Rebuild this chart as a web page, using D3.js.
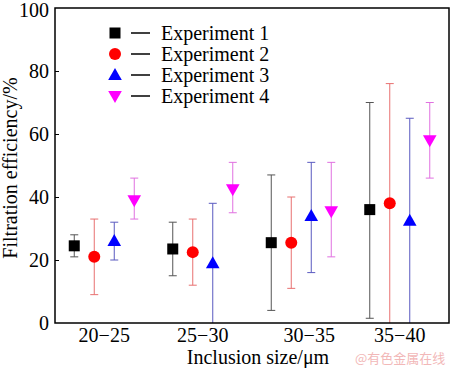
<!DOCTYPE html>
<html><head><meta charset="utf-8">
<script src="https://cdn.jsdelivr.net/npm/d3@7"></script>
<style>body{margin:0;background:#fff}svg{display:block}</style>
</head><body><svg id="c" width="450" height="368"></svg>
<script>
const categories = ["20\u221225","25\u221230","30\u221235","35\u221240"];
const seriesNames = ["Experiment 1","Experiment 2","Experiment 3","Experiment 4"];
const exp1 = [24.5, 23.5, 25.5, 36];
const exp1Lo = [21, 15, 4, 1.5];
const exp1Hi = [28, 32, 47, 70];
const exp2 = [21, 22.5, 25.5, 38];
const exp2Lo = [9, 12, 11, 0];
const exp2Hi = [33, 33, 40, 76];
const exp3 = [26, 19, 34, 32.5];
const exp3Lo = [20, 0, 16, 0];
const exp3Hi = [32, 38, 51, 65];
const exp4 = [39, 42.5, 35.5, 58];
const exp4Lo = [33, 35, 21, 46];
const exp4Hi = [46, 51, 51, 70];
const yTicks = [0, 20, 40, 60, 80, 100];

const series = [
  {name: seriesNames[0], v: exp1, lo: exp1Lo, hi: exp1Hi, color: "#000000", err: "#555555", sym: "square"},
  {name: seriesNames[1], v: exp2, lo: exp2Lo, hi: exp2Hi, color: "#ff0000", err: "#e87070", sym: "circle"},
  {name: seriesNames[2], v: exp3, lo: exp3Lo, hi: exp3Hi, color: "#0000ff", err: "#5a5ac0", sym: "up"},
  {name: seriesNames[3], v: exp4, lo: exp4Lo, hi: exp4Hi, color: "#ff00ff", err: "#e070e0", sym: "down"}
];

const SERIF = '"Liberation Serif"';
const svg = d3.select("#c");
const L = 55, R = 449, T = 8, B = 323;
const x = d3.scaleBand().domain(categories).range([L, R]).padding(0);
const off = d3.scalePoint().domain(seriesNames).range([-30, 30]);
const y = d3.scaleLinear().domain([0, 100]).range([B, T]);

function drawSym(g, sym, color) {
  if (sym === "square") g.append("rect").attr("x", -5.5).attr("y", -5.5).attr("width", 11).attr("height", 11).attr("fill", color);
  else if (sym === "circle") g.append("circle").attr("r", 6).attr("fill", color);
  else if (sym === "up") g.append("path").attr("d", "M0,-7L6.8,5L-6.8,5Z").attr("fill", color);
  else g.append("path").attr("d", "M0,7L6.8,-5L-6.8,-5Z").attr("fill", color);
}

svg.append("defs").append("clipPath").attr("id", "pc").append("rect")
  .attr("x", L).attr("y", T).attr("width", R - L).attr("height", B - T);

const plot = svg.append("g").attr("clip-path", "url(#pc)");
series.forEach(s => {
  const g = plot.append("g");
  categories.forEach((c, i) => {
    const cx = x(c) + x.bandwidth() / 2 + off(s.name);
    g.append("line").attr("x1", cx).attr("x2", cx).attr("y1", y(s.lo[i])).attr("y2", y(s.hi[i]))
      .attr("stroke", s.err).attr("stroke-width", 1);
    [s.lo[i], s.hi[i]].forEach(v => {
      if (v > 0) g.append("line").attr("x1", cx - 4).attr("x2", cx + 4).attr("y1", y(v)).attr("y2", y(v))
        .attr("stroke", s.err).attr("stroke-width", 1);
    });
    drawSym(g.append("g").attr("transform", `translate(${cx},${y(s.v[i])})`), s.sym, s.color);
  });
});

// Axes
const yAxis = svg.append("g").attr("transform", `translate(${L},0)`)
  .call(d3.axisLeft(y).tickValues(yTicks).tickSize(-4).tickPadding(6).tickFormat(d3.format("d")));
yAxis.attr("font-family", null);
yAxis.select(".domain").remove();
yAxis.selectAll(".tick line").attr("stroke", "#000");
yAxis.selectAll("text").attr("font-size", 20).attr("fill", "#000").style("font-family", SERIF);
yAxis.selectAll(".tick").filter(d => d === 0 || d === 100).select("line").remove();
yAxis.selectAll(".tick").filter(d => d === 100).select("text").attr("dy", "0.42em");

const xAxis = svg.append("g").attr("transform", `translate(0,${B})`)
  .call(d3.axisBottom(x).tickSize(0).tickPadding(5));
xAxis.attr("font-family", null);
xAxis.select(".domain").remove();
xAxis.selectAll("text").attr("font-size", 20).attr("fill", "#000").style("font-family", SERIF)
  .attr("dx", d => d === categories[2] ? 8 : 0);

svg.append("rect").attr("x", L).attr("y", T).attr("width", R - L).attr("height", B - T)
  .attr("fill", "none").attr("stroke", "#000").attr("stroke-width", 1.5);

// Titles
svg.append("text").attr("x", 258).attr("y", 364).attr("text-anchor", "middle").attr("font-size", 20)
  .style("font-family", SERIF).text("Inclusion size/\u03bcm");
svg.append("text").attr("transform", "translate(17,168) rotate(-90)").attr("text-anchor", "middle").attr("font-size", 20)
  .style("font-family", SERIF).text("Filtration efficiency/%");

// Legend
series.forEach((s, i) => {
  const ly = 33 + i * 21;
  drawSym(svg.append("g").attr("transform", `translate(115,${ly})`), s.sym, s.color);
  svg.append("line").attr("x1", 131).attr("x2", 150).attr("y1", ly).attr("y2", ly).attr("stroke", "#000").attr("stroke-width", 1.5);
  svg.append("text").attr("x", 161).attr("y", ly + 7).attr("font-size", 20).style("font-family", SERIF).text(s.name);
});

// Watermark
svg.append("text").attr("x", 355).attr("y", 363).attr("font-size", 13).attr("fill", "#f2b8b8")
  .style("font-family", '"Noto Sans CJK SC"').text("@有色金属在线");
</script></body></html>
